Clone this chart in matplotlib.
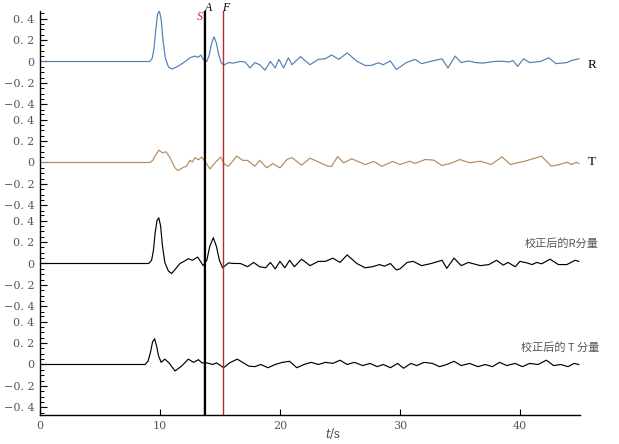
import numpy as np
import matplotlib
matplotlib.use("Agg")
import matplotlib.pyplot as plt

plt.rcParams['mathtext.fontset'] = 'dejavuserif'

# ---- data: (time s, amplitude) pairs ----
R_trace = [(0, 0), (9.15, 0), (9.35, 0.03), (9.5, 0.12), (9.65, 0.3), (9.8, 0.44), (9.95, 0.47),
           (10.1, 0.39), (10.25, 0.2), (10.45, 0.03), (10.7, -0.05), (11.0, -0.07), (11.3, -0.055),
           (11.7, -0.03), (12.1, 0.0), (12.5, 0.035), (12.9, 0.05), (13.2, 0.04), (13.4, 0.06),
           (13.6, 0.02), (13.9, 0.0), (14.1, 0.06), (14.3, 0.17), (14.5, 0.23), (14.7, 0.17),
           (14.9, 0.06), (15.1, -0.01), (15.3, -0.035), (15.7, -0.01), (16.1, -0.015), (16.7, 0.0),
           (17.1, -0.005), (17.5, -0.06), (17.9, -0.01), (18.3, -0.03), (18.75, -0.08), (19.2, 0.0),
           (19.6, -0.06), (19.9, 0.02), (20.3, -0.06), (20.7, 0.035), (21.0, -0.03), (21.7, 0.045),
           (22.5, -0.03), (23.2, 0.02), (23.75, 0.025), (24.3, 0.06), (24.9, 0.02), (25.6, 0.08),
           (26.4, 0.003), (27.1, -0.037), (27.6, -0.037), (28.2, -0.012), (28.6, -0.03), (29.2, 0.005),
           (29.7, -0.075), (30.5, -0.012), (31.25, 0.02), (31.8, -0.02), (32.6, 0.003), (33.5, 0.025),
           (34.0, -0.06), (34.6, 0.05), (35.1, -0.01), (35.7, 0.005), (36.3, -0.01), (36.9, -0.015),
           (37.8, 0.0), (38.5, 0.003), (39.1, -0.005), (39.4, 0.01), (39.8, -0.045), (40.3, 0.025),
           (40.8, -0.01), (41.7, 0.0), (42.4, 0.035), (43.0, -0.02), (43.9, -0.01), (44.3, 0.01),
           (44.9, 0.025)]

T_trace = [(0, 0), (9.17, 0), (9.4, 0.02), (9.58, 0.06), (9.92, 0.115), (10.2, 0.09), (10.5, 0.1),
           (10.83, 0.045), (11.25, -0.05), (11.5, -0.075), (11.94, -0.045), (12.2, -0.035), (12.5, 0.02),
           (12.7, 0.005), (12.9, 0.045), (13.2, 0.025), (13.47, 0.05), (13.75, 0.01), (14.17, -0.06),
           (14.6, 0.0), (15.06, 0.05), (15.4, -0.02), (15.7, -0.035), (16.4, 0.06), (16.9, 0.02),
           (17.3, 0.02), (17.9, -0.035), (18.3, 0.02), (18.9, -0.05), (19.4, -0.01), (20.0, -0.05),
           (20.6, 0.03), (21.0, 0.045), (21.8, -0.025), (22.5, 0.04), (23.2, 0.005), (24.0, -0.035),
           (24.3, -0.035), (24.8, 0.055), (25.3, -0.003), (25.97, 0.035), (26.7, 0.0), (27.1, -0.02),
           (27.8, 0.01), (28.5, -0.035), (29.4, 0.01), (30.0, -0.019), (30.8, 0.012), (31.25, -0.009),
           (32.1, 0.028), (32.8, 0.022), (33.5, -0.028), (34.2, -0.009), (35.0, 0.028), (35.8, -0.003),
           (36.7, 0.012), (37.6, -0.019), (38.5, 0.053), (39.2, -0.019), (40.0, 0.003), (40.4, 0.012),
           (41.8, 0.059), (42.6, -0.034), (43.3, -0.019), (43.9, 0.003), (44.3, -0.019), (44.7, 0.003),
           (44.9, -0.009)]

RC_trace = [(0, 0), (9.05, 0), (9.3, 0.03), (9.45, 0.12), (9.6, 0.29), (9.75, 0.4), (9.9, 0.425),
            (10.05, 0.35), (10.2, 0.17), (10.4, 0.01), (10.7, -0.07), (10.97, -0.093), (11.3, -0.05),
            (11.67, 0.0), (12.0, 0.02), (12.36, 0.045), (12.7, 0.03), (13.14, 0.06), (13.6, -0.02),
            (13.9, 0.03), (14.15, 0.16), (14.44, 0.24), (14.7, 0.16), (14.95, 0.03), (15.22, -0.04),
            (15.7, 0.005), (16.2, 0.0), (16.7, 0.0), (17.3, -0.03), (17.8, 0.01), (18.3, -0.03),
            (18.8, -0.04), (19.2, 0.01), (19.6, -0.05), (20.0, 0.02), (20.4, -0.04), (20.8, 0.03),
            (21.2, -0.03), (21.8, 0.04), (22.5, -0.02), (23.2, 0.02), (23.8, 0.02), (24.4, 0.05),
            (25.0, 0.01), (25.6, 0.08), (26.4, 0.0), (27.1, -0.04), (27.7, -0.03), (28.3, -0.01),
            (28.7, -0.025), (29.2, 0.0), (29.7, -0.06), (30.0, -0.05), (30.6, 0.01), (31.1, 0.02),
            (31.8, -0.02), (32.6, 0.0), (33.5, 0.03), (33.9, -0.045), (34.5, 0.05), (35.1, -0.02),
            (35.7, 0.01), (36.7, -0.02), (37.4, -0.01), (38.05, 0.03), (38.6, -0.015), (39.0, 0.01),
            (39.6, -0.03), (40.0, 0.02), (40.6, 0.005), (41.0, -0.01), (41.4, 0.01), (41.8, -0.003),
            (42.5, 0.04), (43.2, -0.01), (43.9, -0.01), (44.6, 0.03), (44.9, 0.02)]

TC_trace = [(0, 0), (8.75, 0), (9.0, 0.03), (9.2, 0.11), (9.38, 0.21), (9.55, 0.24), (9.72, 0.17),
            (9.88, 0.08), (10.1, 0.02), (10.4, 0.05), (10.75, 0.015), (11.25, -0.06), (11.8, -0.015),
            (12.36, 0.05), (12.8, 0.02), (13.2, 0.045), (13.5, 0.015), (13.9, 0.015), (14.4, 0.0),
            (14.7, 0.015), (15.05, -0.01), (15.3, -0.03), (15.8, 0.015), (16.44, 0.05), (16.95, 0.015),
            (17.4, -0.015), (17.9, -0.02), (18.4, 0.0), (19.0, -0.03), (19.6, 0.0), (20.2, 0.02),
            (20.8, 0.03), (21.4, -0.03), (22.0, 0.0), (22.6, 0.02), (23.2, 0.0), (23.8, 0.02),
            (24.4, 0.01), (25.0, 0.04), (25.6, 0.0), (26.2, 0.02), (26.9, -0.01), (27.5, 0.01),
            (28.1, -0.02), (28.6, 0.0), (29.2, -0.03), (29.8, 0.01), (30.3, -0.035), (30.9, 0.01),
            (31.4, -0.01), (32.0, 0.02), (32.7, 0.01), (33.3, -0.02), (33.9, 0.0), (34.5, 0.03),
            (35.1, -0.01), (35.8, 0.01), (36.5, -0.02), (37.1, 0.0), (37.7, -0.02), (38.3, 0.02),
            (38.9, -0.01), (39.6, 0.01), (40.2, -0.02), (40.8, 0.01), (41.5, 0.0), (42.2, 0.04),
            (42.8, -0.01), (43.4, 0.0), (44.0, -0.02), (44.5, 0.01), (44.9, 0.0)]

trace_labels = ["R", "T", "校正后的R分量", "校正后的 T 分量"]
pick_times = {"S": 13.63, "A": 13.72, "F": 15.25}
x_ticks = [0, 10, 20, 30, 40]
y_ticks = [-0.4, -0.2, 0, 0.2, 0.4]
y_tick_labels = ["\u22120. 4", "\u22120. 2", "0", "0. 2", "0. 4"]

# ---- layout ----
W, H = 619, 444
fig = plt.figure(figsize=(W / 100, H / 100), dpi=100)
ax = fig.add_axes([40 / W, 29 / H, 540 / W, 404 / H])

step = 0.94
half = 0.47
offsets = [0, -step, -2 * step, -3 * step]
colors = ["#4f7fb8", "#b48a5e", "black", "black"]
traces = [R_trace, T_trace, RC_trace, TC_trace]

for tr, off, c in zip(traces, offsets, colors):
    arr = np.array(tr)
    ax.plot(arr[:, 0], arr[:, 1] + off, color=c, lw=0.85)

ax.set_xlim(0, 45)
ax.set_ylim(offsets[-1] - half, half)

# pick lines
ax.axvline(pick_times["S"], color="#c0262a", lw=1.0)
ax.axvline(pick_times["A"], color="black", lw=1.6)
ax.axvline(pick_times["F"], color="#c0262a", lw=1.0)
ax.text(13.3, 0.41, "S", color="#c0262a", fontsize=8.5, fontstyle="italic",
        family="Liberation Serif", ha="center", va="center", clip_on=False)
ax.text(14.05, 0.50, "A", color="black", fontsize=8.5, fontstyle="italic",
        family="Liberation Serif", ha="center", va="center", clip_on=False)
ax.text(15.45, 0.50, "F", color="black", fontsize=8.5, fontstyle="italic",
        family="Liberation Serif", ha="center", va="center", clip_on=False)

# y ticks per panel
major_pos, major_lab, minor_pos = [], [], []
for off in offsets:
    for v, lab in zip(y_ticks, y_tick_labels):
        major_pos.append(v + off)
        major_lab.append(lab)
    for k in range(-9, 10):
        v = k * 0.05
        if k % 4 != 0:
            minor_pos.append(v + off)
ax.set_yticks(major_pos)
ax.set_yticklabels(major_lab)
ax.set_yticks(minor_pos, minor=True)
ax.set_xticks(x_ticks)
ax.set_xticklabels([str(x) for x in x_ticks])

for lab in ax.get_yticklabels() + ax.get_xticklabels():
    lab.set_family("DejaVu Serif")
    lab.set_fontsize(8)
    lab.set_color("#555555")

ax.tick_params(axis="y", which="major", direction="in", length=5, width=0.8, pad=4)
ax.tick_params(axis="y", which="minor", direction="in", length=3, width=0.7)
ax.tick_params(axis="x", which="major", direction="in", length=4, width=0.8, pad=4)

for s in ["top", "right"]:
    ax.spines[s].set_visible(False)
ax.spines["left"].set_linewidth(1.0)
ax.spines["bottom"].set_linewidth(1.0)

# trace labels
fig.text(592 / W, 1 - 65 / H, trace_labels[0], family="Liberation Serif", fontsize=9.5,
         ha="center", va="center")
fig.text(592 / W, 1 - 162 / H, trace_labels[1], family="Liberation Serif", fontsize=9.5,
         ha="center", va="center")
fig.text(599 / W, 1 - 243 / H, trace_labels[2], family=["Noto Sans CJK SC", "DejaVu Sans"],
         fontsize=8, color="#555555", ha="right", va="center")
fig.text(599 / W, 1 - 347 / H, trace_labels[3], family=["Noto Sans CJK SC", "DejaVu Sans"],
         fontsize=8, color="#555555", ha="right", va="center")

fig.text(333 / W, 1 - 433 / H, r"$t$/s", family="DejaVu Serif", fontsize=8.5,
         color="#444444", ha="center", va="center")

fig.savefig("out.png", dpi=100)
